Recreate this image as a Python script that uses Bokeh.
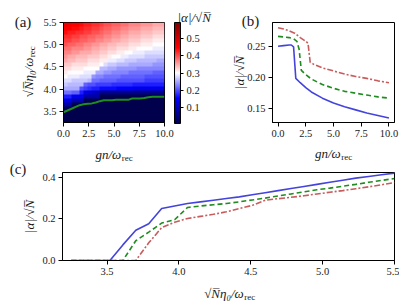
import numpy as np
from bokeh.plotting import figure
from bokeh.models import (LinearColorMapper, ColorBar, FixedTicker, Label, Range1d,
                          NumeralTickFormatter)
from bokeh.layouts import column, row
from bokeh.embed import file_html
from bokeh.resources import INLINE

# ---------------- data: panel (a) heat map ----------------
gn_extent = [0.0, 10.0]          # gn/omega_rec
eta_extent = [3.25, 5.5]         # sqrt(N) eta0 / omega_rec
# rows: increasing eta (bottom -> top), columns: increasing gn
alpha_map = [
    [0,0,0,0,0,0,0,0,0,0,0,0,0,0,0,0,0,0,0,0,0,0,0,0,0],
    [0,0,0,0,0,0,0,0,0,0,0,0,0,0,0,0,0,0,0,0,0,0,0,0,0],
    [0,0,0,0,0,0,0,0,0,0,0,0,0,0,0,0,0,0,0,0,0,0,0,0,0],
    [0,0,0,0,0,0,0,0,0,0,0,0,0,0,0,0,0,0,0,0,0,0,0,0,0],
    [0.08,0.08,0,0,0,0,0,0,0,0,0,0,0,0,0,0,0,0,0,0,0,0,0,0,0],
    [0.13,0.13,0.09,0.09,0.09,0,0,0,0,0,0,0,0,0,0,0,0,0,0,0,0,0,0,0,0],
    [0.17,0.17,0.14,0.14,0.14,0.08,0.08,0.08,0.08,0,0,0,0,0,0,0,0,0,0,0,0,0,0,0,0],
    [0.22,0.22,0.21,0.21,0.17,0.13,0.12,0.11,0.10,0.06,0.06,0.06,0.06,0.06,0.06,0.06,0.06,0.06,0.06,0.06,0.06,0.06,0.06,0.06,0.06],
    [0.25,0.25,0.25,0.25,0.20,0.19,0.18,0.17,0.17,0.16,0.16,0.16,0.16,0.15,0.15,0.15,0.15,0.14,0.14,0.14,0.14,0.14,0.14,0.14,0.14],
    [0.27,0.26,0.26,0.26,0.26,0.21,0.20,0.20,0.19,0.19,0.19,0.19,0.18,0.18,0.18,0.18,0.18,0.17,0.17,0.17,0.17,0.17,0.17,0.17,0.17],
    [0.28,0.28,0.27,0.27,0.27,0.27,0.26,0.22,0.22,0.21,0.21,0.21,0.21,0.20,0.20,0.20,0.20,0.20,0.20,0.20,0.19,0.19,0.19,0.19,0.19],
    [0.30,0.29,0.29,0.29,0.28,0.28,0.28,0.24,0.23,0.23,0.22,0.22,0.22,0.22,0.21,0.21,0.21,0.21,0.21,0.21,0.20,0.20,0.20,0.20,0.20],
    [0.31,0.30,0.30,0.30,0.30,0.29,0.29,0.29,0.25,0.25,0.24,0.24,0.23,0.23,0.23,0.23,0.22,0.22,0.22,0.22,0.22,0.22,0.21,0.21,0.21],
    [0.32,0.32,0.31,0.31,0.31,0.30,0.30,0.30,0.30,0.26,0.26,0.25,0.25,0.24,0.24,0.24,0.24,0.24,0.23,0.23,0.23,0.23,0.23,0.23,0.23],
    [0.33,0.33,0.32,0.32,0.32,0.32,0.31,0.31,0.31,0.30,0.28,0.27,0.27,0.26,0.26,0.26,0.25,0.25,0.25,0.25,0.25,0.25,0.24,0.24,0.24],
    [0.35,0.34,0.34,0.33,0.33,0.33,0.32,0.32,0.32,0.31,0.31,0.29,0.29,0.28,0.28,0.27,0.27,0.27,0.26,0.26,0.26,0.26,0.26,0.25,0.25],
    [0.36,0.35,0.35,0.34,0.34,0.34,0.33,0.33,0.33,0.32,0.32,0.31,0.30,0.30,0.29,0.29,0.28,0.28,0.28,0.28,0.27,0.27,0.27,0.27,0.27],
    [0.37,0.37,0.36,0.36,0.35,0.35,0.35,0.34,0.34,0.33,0.33,0.32,0.32,0.31,0.31,0.30,0.30,0.29,0.29,0.29,0.28,0.28,0.28,0.28,0.28],
    [0.38,0.38,0.37,0.37,0.37,0.36,0.36,0.35,0.35,0.34,0.34,0.33,0.33,0.32,0.32,0.32,0.31,0.31,0.30,0.30,0.30,0.30,0.29,0.29,0.29],
    [0.40,0.39,0.39,0.38,0.38,0.37,0.37,0.36,0.36,0.35,0.35,0.34,0.34,0.33,0.33,0.33,0.32,0.32,0.32,0.31,0.31,0.31,0.30,0.30,0.30],
    [0.41,0.41,0.40,0.40,0.39,0.39,0.38,0.38,0.37,0.37,0.36,0.36,0.35,0.35,0.34,0.34,0.33,0.33,0.33,0.32,0.32,0.32,0.31,0.31,0.31],
    [0.42,0.42,0.41,0.41,0.40,0.40,0.39,0.39,0.38,0.38,0.37,0.37,0.36,0.36,0.35,0.35,0.34,0.34,0.34,0.33,0.33,0.33,0.32,0.32,0.32],
    [0.44,0.43,0.43,0.42,0.42,0.41,0.41,0.40,0.40,0.39,0.38,0.38,0.37,0.37,0.36,0.36,0.35,0.35,0.35,0.34,0.34,0.34,0.33,0.33,0.33],
    [0.45,0.45,0.44,0.44,0.43,0.42,0.42,0.41,0.41,0.40,0.39,0.39,0.38,0.38,0.37,0.37,0.36,0.36,0.36,0.35,0.35,0.35,0.34,0.34,0.34],
    [0.47,0.46,0.45,0.45,0.44,0.43,0.43,0.42,0.42,0.41,0.40,0.40,0.39,0.39,0.38,0.38,0.37,0.37,0.37,0.36,0.36,0.36,0.35,0.35,0.35],
]
color_limits = [0.008, 0.592]
cbar_ticks = [0.1, 0.2, 0.3, 0.4, 0.5]

# threshold (green) line in panel (a)
th_gn = [0.0, 0.4, 0.8, 1.2, 1.6, 2.0, 2.4, 2.8, 3.2, 3.6, 4.0, 4.4, 4.8, 5.2, 5.6,
         6.0, 6.4, 6.8, 7.2, 7.6, 8.0, 8.4, 8.8, 9.2, 9.6, 10.0]
th_eta = [3.48, 3.52, 3.56, 3.60, 3.64, 3.66, 3.67, 3.68, 3.70, 3.73, 3.75, 3.75, 3.75,
          3.76, 3.76, 3.76, 3.76, 3.79, 3.79, 3.79, 3.80, 3.82, 3.83, 3.83, 3.83, 3.83]

# ---------------- data: panel (b) ----------------
b_gn_blue = [0.0, 0.5, 1.0, 1.2, 1.4, 1.6, 2.0, 2.5, 3.0, 4.0, 5.0, 6.0, 7.0, 8.0, 9.0, 10.0]
b_blue = [0.250, 0.251, 0.252, 0.252, 0.249, 0.198, 0.191, 0.183, 0.176, 0.166, 0.158,
          0.152, 0.147, 0.142, 0.138, 0.134]
b_gn_green = [0.0, 0.5, 1.0, 1.4, 1.7, 1.9, 2.1, 2.5, 3.0, 4.0, 5.0, 6.0, 7.0, 8.0, 9.0, 10.0]
b_green = [0.266, 0.265, 0.264, 0.262, 0.258, 0.245, 0.211, 0.204, 0.197, 0.188, 0.182,
           0.177, 0.174, 0.171, 0.168, 0.166]
b_gn_red = [0.0, 0.5, 1.0, 1.5, 2.0, 2.5, 2.7, 2.9, 3.2, 4.0, 5.0, 6.0, 7.0, 8.0, 9.0, 10.0]
b_red = [0.280, 0.278, 0.275, 0.271, 0.264, 0.258, 0.255, 0.224, 0.221, 0.215, 0.210,
         0.205, 0.201, 0.198, 0.194, 0.191]

# ---------------- data: panel (c) ----------------
c_eta = [3.25, 3.34, 3.43, 3.52, 3.61, 3.70, 3.79, 3.88, 3.97, 4.06, 4.15, 4.24, 4.33,
         4.42, 4.51, 4.60, 4.69, 4.78, 4.87, 4.96, 5.05, 5.14, 5.23, 5.32, 5.41, 5.50]
c_blue = [0, 0, 0, 0, 0.075, 0.145, 0.177, 0.250, 0.262, 0.274, 0.282, 0.290, 0.298,
          0.306, 0.316, 0.326, 0.336, 0.346, 0.356, 0.366, 0.376, 0.386, 0.396, 0.404,
          0.412, 0.420]
c_green = [0, 0, 0, 0, 0, 0.095, 0.136, 0.180, 0.196, 0.255, 0.262, 0.268, 0.274, 0.282,
           0.291, 0.300, 0.310, 0.320, 0.330, 0.340, 0.348, 0.357, 0.366, 0.376, 0.385,
           0.394]
c_red = [0, 0, 0, 0, 0, 0, 0.085, 0.158, 0.184, 0.202, 0.212, 0.222, 0.234, 0.250, 0.265,
         0.290, 0.297, 0.304, 0.311, 0.320, 0.328, 0.336, 0.345, 0.354, 0.364, 0.375]

# tick positions
a_xticks = [0, 2.5, 5, 7.5, 10]
a_yticks = [3.5, 4.0, 4.5, 5.0, 5.5]
b_xticks = [0, 2.5, 5, 7.5, 10]
b_yticks = [0.15, 0.20, 0.25]
c_xticks = [3.5, 4.0, 4.5, 5.0, 5.5]
c_yticks = [0.0, 0.2, 0.4]

# text
LBL_ETA = "\u221aN\u0305\u03b7\u2080/\u03c9"
LBL_GN = "gn/\u03c9"
LBL_SUB = "rec"
LBL_ALPHA = "|\u03b1|/\u221aN\u0305"

# ---------------- styling ----------------
FONT = "Liberation Serif"
TXT = "#1a1a1a"
BLUE = "#4444dd"
GREEN = "#1e8c1e"
RED = "#c85c5c"
DASH = "5 3"
DASHDOT = "6 2 2 2"
MAIN_SIZE = 13
SUB_SIZE = 9
PANEL_SIZE = 15


def seismic(n=256):
    anchors = [(0.0, (0.0, 0.0, 0.3)), (0.25, (0.0, 0.0, 1.0)), (0.5, (1.0, 1.0, 1.0)),
               (0.75, (1.0, 0.0, 0.0)), (1.0, (0.5, 0.0, 0.0))]
    out = []
    for i in range(n):
        t = i / (n - 1)
        for (t0, c0), (t1, c1) in zip(anchors[:-1], anchors[1:]):
            if t <= t1 + 1e-12:
                f = (t - t0) / (t1 - t0)
                rgb = [c0[k] + (c1[k] - c0[k]) * f for k in range(3)]
                break
        out.append("#%02x%02x%02x" % tuple(int(round(255 * v)) for v in rgb))
    return out


def make_fig(w, h, xr, yr, bl, br, bt, bb, xt, yt, xfmt, yfmt):
    p = figure(width=w, height=h, x_range=Range1d(*xr), y_range=Range1d(*yr),
               output_backend="svg", toolbar_location=None, title=None,
               min_border_left=bl, min_border_right=br, min_border_top=bt,
               min_border_bottom=bb)
    p.grid.visible = False
    p.outline_line_color = "black"
    p.outline_line_width = 1
    p.background_fill_color = "white"
    p.border_fill_color = "white"
    for ax, ticks, fmt in ((p.xaxis[0], xt, xfmt), (p.yaxis[0], yt, yfmt)):
        ax.ticker = FixedTicker(ticks=ticks)
        ax.formatter = NumeralTickFormatter(format=fmt)
        ax.major_tick_in = 0
        ax.major_tick_out = 4
        ax.minor_tick_in = 0
        ax.minor_tick_out = 0
        ax.axis_line_color = "black"
        ax.major_tick_line_color = "black"
        ax.major_label_text_font = FONT
        ax.major_label_text_font_size = "10.5px"
        ax.major_label_text_color = TXT
        ax.major_label_standoff = 3
    # geometry used to place the texts that live outside the frame
    p._geom = (bl, bt, w - bl - br, h - bt - bb, xr, yr)
    return p


def put(p, side, cx, cy, text, size, italic=False, rotated=False, align="left",
        baseline="alphabetic"):
    """Place a text at canvas pixel (cx, cy) of figure p, stored in a side panel
    (so it is not clipped by the frame) and positioned through the figure's scales."""
    fl, ft, fw, fh, (x0, x1), (y0, y1) = p._geom
    dx = x0 + (cx - fl) / fw * (x1 - x0)
    dy = y1 - (cy - ft) / fh * (y1 - y0)
    p.add_layout(Label(x=dx, y=dy, x_units="data", y_units="data", text=text,
                       text_font=FONT, text_font_size=f"{size}px",
                       text_font_style="italic" if italic else "normal",
                       angle=np.pi / 2 if rotated else 0.0, text_align=align,
                       text_baseline=baseline, text_color=TXT), side)


# ---------------- panel (a) ----------------
mapper = LinearColorMapper(palette=seismic(), low=color_limits[0], high=color_limits[1])
fa = make_fig(217, 162, gn_extent, eta_extent, 63, 53, 21, 40, a_xticks, a_yticks, "0.0", "0.0")
fa.image(image=[np.array(alpha_map, dtype=float)], x=gn_extent[0], y=eta_extent[0],
         dw=gn_extent[1] - gn_extent[0], dh=eta_extent[1] - eta_extent[0], color_mapper=mapper)
fa.line(th_gn, th_eta, line_color=GREEN, line_width=2)

put(fa, "left", 22.5, 20, "(a)", PANEL_SIZE, align="center", baseline="middle")
put(fa, "left", 28, 56.5, LBL_ETA, MAIN_SIZE, italic=True, rotated=True, align="right")
# the rotated subscript sits first in the right panel: it also spaces the colour bar
put(fa, "right", 31, 56, LBL_SUB, SUB_SIZE, rotated=True, align="left")
cb = ColorBar(color_mapper=mapper, ticker=FixedTicker(ticks=cbar_ticks), width=6, height=101,
              padding=0, margin=0, location="top_left",
              major_tick_in=0, major_tick_out=3, major_tick_line_color="black",
              minor_tick_line_color=None, bar_line_color="black", bar_line_width=1,
              border_line_color=None, background_fill_color=None, label_standoff=3,
              major_label_text_font=FONT, major_label_text_font_size="10.5px",
              major_label_text_color=TXT)
fa.add_layout(cb, "right")
put(fa, "below", 120.8, 154.5, LBL_GN, MAIN_SIZE, italic=True, align="right")
put(fa, "right", 121.3, 157.5, LBL_SUB, SUB_SIZE, align="left")
put(fa, "above", 177, 16, LBL_ALPHA, MAIN_SIZE, italic=True, align="left")

# ---------------- panel (b) ----------------
fb = make_fig(182, 162, (-0.5, 10.5), (0.1266, 0.2884), 55, 5, 22, 39, b_xticks, b_yticks, "0.0", "0.00")
fb.line(b_gn_blue, b_blue, line_color=BLUE, line_width=1.6)
fb.line(b_gn_green, b_green, line_color=GREEN, line_width=1.6, line_dash=DASH)
fb.line(b_gn_red, b_red, line_color=RED, line_width=1.6, line_dash=DASHDOT)
put(fb, "above", 33, 20, "(b)", PANEL_SIZE, align="center", baseline="middle")
put(fb, "left", 22, 72.5, LBL_ALPHA, MAIN_SIZE, italic=True, rotated=True, align="center")
put(fb, "below", 123.3, 154.5, LBL_GN, MAIN_SIZE, italic=True, align="right")
put(fb, "left", 123.8, 157.5, LBL_SUB, SUB_SIZE, align="left")

# ---------------- panel (c) ----------------
fc = make_fig(399, 140, (3.19, 5.5), (0.0, 0.423), 62, 5, 10, 42, c_xticks, c_yticks, "0.0", "0.0")
fc.line(c_eta, c_blue, line_color=BLUE, line_width=1.6)
fc.line(c_eta, c_green, line_color=GREEN, line_width=1.6, line_dash=DASH)
fc.line(c_eta, c_red, line_color=RED, line_width=1.6, line_dash=DASHDOT)
put(fc, "left", 17.5, 6, "(c)", PANEL_SIZE, align="center", baseline="middle")
put(fc, "left", 29, 54, LBL_ALPHA, MAIN_SIZE, italic=True, rotated=True, align="center")
put(fc, "below", 243.2, 131, LBL_ETA, MAIN_SIZE, italic=True, align="right")
put(fc, "above", 243.7, 134, LBL_SUB, SUB_SIZE, align="left")

layout = column(row(fa, fb), fc)
open("out.html", "w").write(file_html(layout, INLINE))
